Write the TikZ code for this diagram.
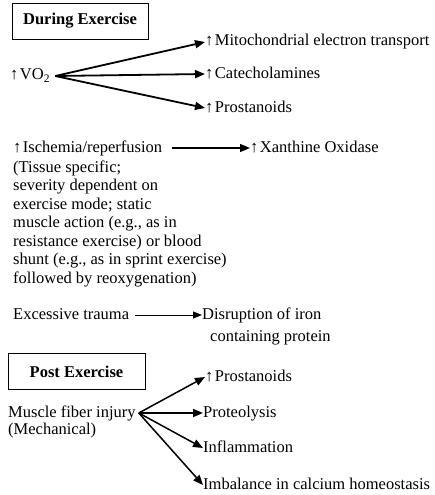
\documentclass[tikz,border=0pt]{standalone}
\usepackage{fontspec}
\setmainfont{Liberation Serif}
\usepackage{tikz}
\usetikzlibrary{arrows.meta,positioning}

\newcommand{\up}{↑\kern1.5pt}

\begin{document}
\begin{tikzpicture}[x=1pt, y=-1pt,
    every node/.style={font=\fontsize{16.5}{18.5}\selectfont},
    txt/.style={inner sep=0pt, anchor=west, text height=11.5pt, text depth=3.5pt},
    note/.style={inner sep=0pt, align=left},
    phase/.style={rectangle, draw, line width=0.9pt, inner sep=0pt,
        minimum height=36pt, font=\fontsize{16.5}{18.5}\selectfont\bfseries},
    arr/.style={-{Triangle[length=10pt, width=8pt]}, line width=1.8pt},
    thinarr/.style={-{Triangle[length=9pt, width=7pt]}, line width=1pt},
]
\useasboundingbox (0,0) rectangle (435,495);

% ── During exercise ──
\node[phase, minimum width=136pt] (during) at (80,21) {During Exercise};

\node[txt] (vo) at (10,76) {\up VO\textsubscript{2}};
\coordinate[right=5pt of vo] (vosrc);
\node[txt] (mito) at (205,42) {\up Mitochondrial electron transport};
\node[txt] (cat)  at (205,74) {\up Catecholamines};
\node[txt] (pros) at (205,108) {\up Prostanoids};

\draw[arr] (vosrc) -- (mito.west);
\draw[arr] (vosrc) -- (cat.west);
\draw[arr] (vosrc) -- (pros.west);

% ── Ischemia ──
\node[txt] (isch) at (13,148) {\up Ischemia/reperfusion};
\node[note, below=4.5pt of isch.south west, anchor=north west] (ischnote)
    {(Tissue specific;\\
     severity dependent on\\
     exercise mode; static\\
     muscle action (e.g., as in\\
     resistance exercise) or blood\\
     shunt (e.g., as in sprint exercise)\\
     followed by reoxygenation)};
\node[txt] (xan) at (250,148) {\up Xanthine Oxidase};
\draw[arr, line width=1.4pt, shorten <=10pt] (isch.east) -- (xan.west);

% ── Trauma ──
\node[txt] (exc) at (13,315) {Excessive trauma};
\node[txt] (disr) at (202,315) {Disruption of iron};
\node[txt] (cont) at (210,337) {containing protein};
\draw[thinarr, shorten <=6pt] (exc.east) -- (disr.west);

% ── Post exercise ──
\node[phase, minimum width=137pt] (post) at (76.5,371.5) {Post Exercise};

\node[txt] (musc) at (8,413) {Muscle fiber injury};
\node[txt] (mech) at (8,430) {(Mechanical)};
\coordinate[right=3pt of musc] (muscsrc);
\node[txt] (pros2) at (205,377) {\up Prostanoids};
\node[txt] (prot)  at (203,413) {Proteolysis};
\node[txt] (infl)  at (203,448) {Inflammation};
\node[txt] (imb)   at (203,485) {Imbalance in calcium homeostasis};

\draw[arr, line width=1.5pt] (muscsrc) -- (pros2.west);
\draw[arr, line width=1.5pt] (muscsrc) -- (prot.west);
\draw[arr, line width=1.5pt] (muscsrc) -- (infl.west);
\draw[arr, line width=1.5pt] (muscsrc) -- (imb.west);

\end{tikzpicture}
\end{document}
